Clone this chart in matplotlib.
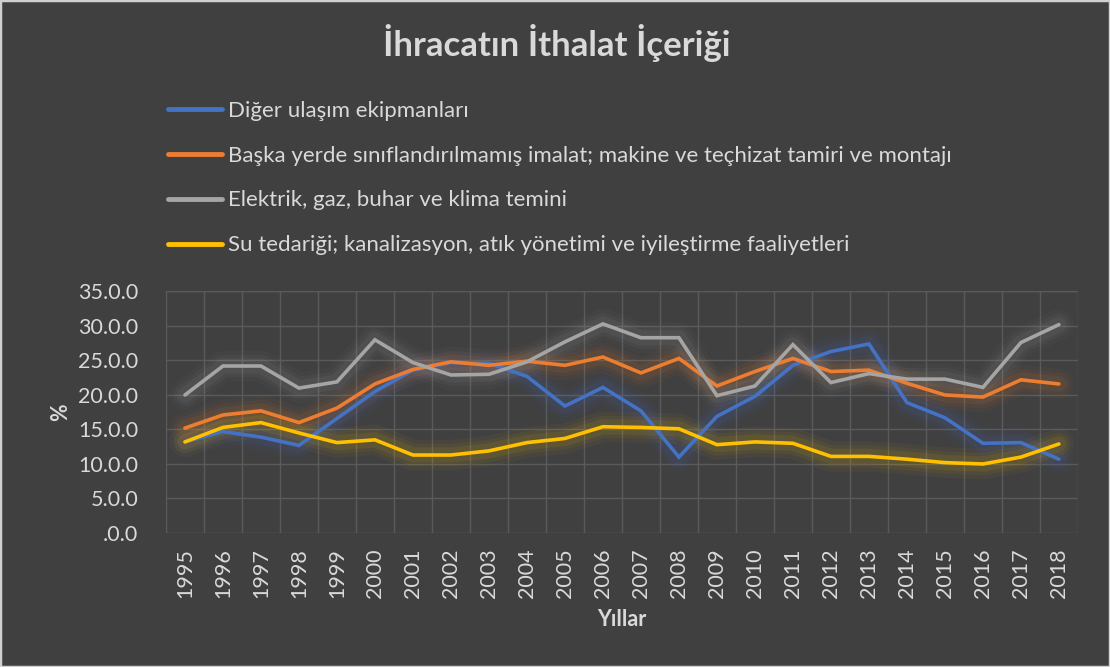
import matplotlib
matplotlib.use("Agg")
import matplotlib.pyplot as plt
from matplotlib import patches
import numpy as np

years = list(range(1995, 2019))

diger_ulasim = [13.2, 14.7, 13.9, 12.7, 16.6, 20.5, 23.6, 24.7, 24.6, 22.7, 18.4, 21.1,
                17.7, 11.0, 16.9, 19.8, 24.3, 26.3, 27.4, 18.9, 16.7, 13.0, 13.1, 10.7]
baska_imalat = [15.2, 17.1, 17.7, 16.0, 18.1, 21.6, 23.7, 24.8, 24.3, 24.9, 24.3, 25.5,
                23.2, 25.3, 21.3, 23.4, 25.3, 23.4, 23.6, 21.7, 20.0, 19.7, 22.2, 21.6]
elektrik_gaz = [20.0, 24.2, 24.2, 21.0, 21.9, 28.0, 24.7, 22.9, 23.0, 24.8, 27.7, 30.3,
                28.3, 28.3, 19.9, 21.3, 27.3, 21.8, 23.1, 22.3, 22.3, 21.1, 27.6, 30.2]
su_tedarigi = [13.2, 15.3, 16.0, 14.5, 13.1, 13.5, 11.3, 11.3, 11.9, 13.1, 13.7, 15.4,
               15.3, 15.1, 12.8, 13.2, 13.0, 11.1, 11.1, 10.7, 10.2, 10.0, 11.0, 12.9]

series_labels = [
    "Diğer ulaşım ekipmanları",
    "Başka yerde sınıflandırılmamış imalat; makine ve teçhizat tamiri ve montajı",
    "Elektrik, gaz, buhar ve klima temini",
    "Su tedariği; kanalizasyon, atık yönetimi ve iyileştirme faaliyetleri",
]
series_colors = ["#4472C4", "#ED7D31", "#A5A5A5", "#FFC000"]

y_ticks = [0, 5, 10, 15, 20, 25, 30, 35]
y_tick_labels = [".0.0", "5.0.0", "10.0.0", "15.0.0", "20.0.0", "25.0.0", "30.0.0", "35.0.0"]

bg = "#404040"
txt = "#d9d9d9"
plt.rcParams["font.family"] = ["Lato", "DejaVu Sans"]

fig = plt.figure(figsize=(11.1, 6.67), dpi=100, facecolor=bg)
ax = fig.add_axes([0.1495, 0.2009, 0.8216, 0.3621], facecolor=bg)

x = np.arange(len(years))
all_series = [diger_ulasim, baska_imalat, elektrik_gaz, su_tedarigi]
lines = []
for vals, col in zip(all_series, series_colors):
    # soft glow under each line
    for w, a in [(22, 0.04), (16, 0.06), (11, 0.08)]:
        ax.plot(x, vals, color=col, lw=w, alpha=a, solid_joinstyle="round",
                solid_capstyle="round", zorder=2)
for vals, col, lab in zip(all_series, series_colors, series_labels):
    ln, = ax.plot(x, vals, color=col, lw=2.6, label=lab, zorder=3,
                  solid_joinstyle="miter", solid_capstyle="round")
    lines.append(ln)

ax.set_xlim(-0.5, len(years) - 0.5)
ax.set_ylim(0, 35)
ax.set_yticks(y_ticks)
ax.set_yticklabels(y_tick_labels)
ax.set_xticks(x)
ax.set_xticklabels([str(y) for y in years], rotation=90)
ax.set_xticks(np.arange(-0.5, len(years)), minor=True)

ax.grid(True, axis="y", which="major", color="#5a5a5a", lw=1.0, zorder=1)
ax.grid(True, axis="x", which="minor", color="#5a5a5a", lw=1.0, zorder=1)
ax.tick_params(axis="both", which="both", length=0, colors=txt, labelsize=15.5)
ax.tick_params(axis="y", pad=20)
ax.tick_params(axis="x", pad=11)
for s in ax.spines.values():
    s.set_visible(False)
ax.axhline(35, color="#5a5a5a", lw=1.0, zorder=1)

ax.set_xlabel("Yıllar", color=txt, fontsize=15.5, fontweight="bold", labelpad=8)
ax.set_ylabel("%", color=txt, fontsize=15.5, fontweight="bold", labelpad=5)

fig.text(0.502, 0.9355, "İhracatın İthalat İçeriği", ha="center", va="center",
         color=txt, fontsize=25, fontweight="bold")

leg = fig.legend(handles=lines, loc="upper left", bbox_to_anchor=(0.1514, 0.849),
                 frameon=False, labelcolor=txt, fontsize=16, handlelength=2.45,
                 handletextpad=0.25, labelspacing=1.12, borderpad=0, borderaxespad=0)
for h in leg.legend_handles:
    h.set_linewidth(3.5)

# thin light frame around the whole figure
fig.patches.append(patches.Rectangle((0, 0), 1, 1, transform=fig.transFigure,
                                     fill=False, edgecolor="#d0d0d0", lw=2.5))

fig.savefig("out.png", facecolor=bg, dpi=100)
